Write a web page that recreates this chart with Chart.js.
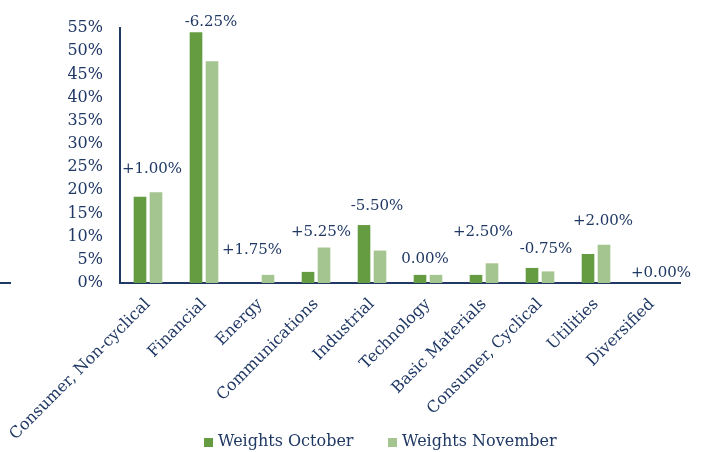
<!DOCTYPE html>
<html>
<head>
<meta charset="utf-8">
<script src="https://cdn.jsdelivr.net/npm/chart.js@4.4.1/dist/chart.umd.min.js"></script>
<style>
  html, body { margin:0; padding:0; background:#fff; }
  #wrap { width:704px; height:452px; }
</style>
</head>
<body>
<div id="wrap"><canvas id="chart"></canvas></div>
<script>
// data
const sectors = ["Consumer, Non-cyclical","Financial","Energy","Communications","Industrial",
                 "Technology","Basic Materials","Consumer, Cyclical","Utilities","Diversified"];
const weightsOctober  = [18.6, 54.1, 0, 2.4, 12.5, 1.75, 1.75, 3.25, 6.25, 0];
const weightsNovember = [19.6, 47.85, 1.75, 7.65, 7.0, 1.75, 4.25, 2.5, 8.25, 0];
const changeLabels = ["+1.00%","-6.25%","+1.75%","+5.25%","-5.50%","0.00%","+2.50%","-0.75%","+2.00%","+0.00%"];
const yTicks = { min:0, max:55, step:5 };

// label placement relative to the taller bar (px): [dx, lift]
const labelPlace = [[4,23],[7,10],[-8,25],[5,15],[5,19],[-3,16],[-1,31],[6,19],[7,24],[9,10]];

const NAVY = "#1f3864";
const FONT = "'DejaVu Serif', serif";
const DARK = "#659c41", LIGHT = "#a4c58f";

/* ====== change labels above each group ====== */
const changeLabelPlugin = {
  id: "changeLabels",
  afterDatasetsDraw(chart){
    const {ctx} = chart;
    const m0 = chart.getDatasetMeta(0), m1 = chart.getDatasetMeta(1);
    const xs = chart.scales.x;
    ctx.save();
    ctx.font = "15px " + FONT;
    ctx.fillStyle = NAVY;
    ctx.textAlign = "center";
    ctx.textBaseline = "middle";
    changeLabels.forEach((txt, i) => {
      const top = Math.min(m0.data[i].y, m1.data[i].y);
      const [dx, lift] = labelPlace[i];
      ctx.fillText(txt, xs.getPixelForValue(i) + dx, top - lift);
    });
    ctx.restore();
  }
};

/* ====== legend + stray axis stub on the far left ====== */
const extrasPlugin = {
  id: "extras",
  afterDraw(chart){
    const {ctx, chartArea} = chart;
    ctx.save();
    ctx.strokeStyle = NAVY; ctx.lineWidth = 2;
    ctx.beginPath(); ctx.moveTo(0, chartArea.bottom); ctx.lineTo(11, chartArea.bottom); ctx.stroke();

    ctx.font = "16px " + FONT;
    ctx.textBaseline = "middle"; ctx.textAlign = "left";
    const items = [[204, 0], [388, 1]];
    items.forEach(([x, di]) => {
      const ds = chart.data.datasets[di];
      ctx.fillStyle = ds.backgroundColor;
      ctx.fillRect(x, 438, 9, 9);
      ctx.fillStyle = NAVY;
      ctx.fillText(ds.label, x + 14, 442);
    });
    ctx.restore();
  }
};

new Chart(document.getElementById("chart"), {
  type: "bar",
  data: {
    labels: sectors,
    datasets: [
      { label:"Weights October",  data:weightsOctober,  backgroundColor:DARK },
      { label:"Weights November", data:weightsNovember, backgroundColor:LIGHT }
    ]
  },
  options: {
    responsive:true, maintainAspectRatio:false, animation:false,
    categoryPercentage:0.571, barPercentage:0.79,
    layout:{ padding:{ top:28, right:24, left:0, bottom:0 } },
    plugins:{ legend:{ display:false }, tooltip:{ enabled:false } },
    scales:{
      x:{
        grid:{ display:false, drawTicks:false },
        border:{ display:true, color:NAVY, width:2 },
        ticks:{ color:NAVY, font:{ family:FONT, size:16 }, minRotation:45, maxRotation:45, padding:12, autoSkip:false },
        afterFit(s){ s.height = 169; s.paddingLeft = 0; s.paddingRight = 0; }
      },
      y:{
        min:yTicks.min, max:yTicks.max,
        grid:{ display:false, drawTicks:false },
        border:{ display:true, color:NAVY, width:2 },
        ticks:{ stepSize:yTicks.step, color:NAVY, font:{ family:FONT, size:16 }, padding:17,
                callback:v => v + "%" },
        afterFit(s){ s.width = 120; }
      }
    }
  },
  plugins:[changeLabelPlugin, extrasPlugin]
});
</script>
</body>
</html>
